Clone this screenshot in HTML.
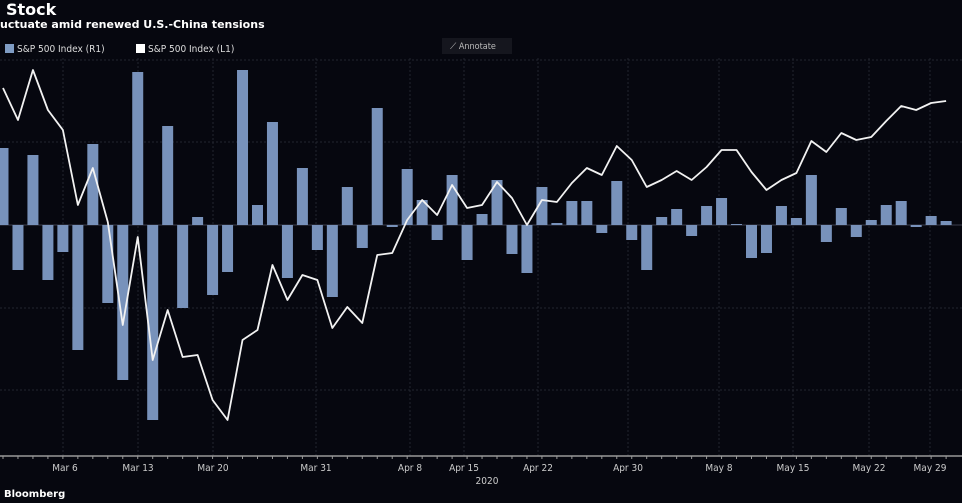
<!DOCTYPE html>
<html><head><meta charset="utf-8"><style>
body{margin:0;background:#06070f;width:962px;height:503px;overflow:hidden;font-family:"DejaVu Sans","Liberation Sans",sans-serif}
</style></head><body>
<svg width="962" height="503" viewBox="0 0 962 503" xmlns="http://www.w3.org/2000/svg" style="position:absolute;left:0;top:0">
<rect width="962" height="503" fill="#06070f"/>
<text x="6" y="15" fill="#fff" font-size="16" font-weight="bold" font-family="DejaVu Sans,sans-serif">Stock</text>
<text x="0" y="28" fill="#fff" font-size="11" font-weight="bold" font-family="DejaVu Sans,sans-serif">uctuate amid renewed U.S.-China tensions</text>
<rect x="5" y="44" width="9" height="9" fill="#7f9cc4"/>
<text x="17" y="52" fill="#ddd" font-size="10" font-family="DejaVu Sans Condensed,DejaVu Sans,sans-serif">S&amp;P 500 Index  (R1)</text>
<rect x="136" y="44" width="9" height="9" fill="#fff"/>
<text x="148" y="52" fill="#ddd" font-size="10" font-family="DejaVu Sans Condensed,DejaVu Sans,sans-serif">S&amp;P 500 Index  (L1)</text>
<rect x="442" y="38" width="70" height="16" fill="#15161e"/>
<text x="450" y="49" fill="#bbb" font-size="9" font-family="DejaVu Sans Condensed,sans-serif">⟋ Annotate</text>
<g stroke="#23252f" stroke-dasharray="2,2" stroke-width="1">
<line x1="0" y1="142" x2="962" y2="142"/><line x1="0" y1="308" x2="962" y2="308"/><line x1="0" y1="390" x2="962" y2="390"/><line x1="0" y1="60" x2="962" y2="60"/>
<line x1="63" y1="58" x2="63" y2="456"/><line x1="138" y1="58" x2="138" y2="456"/><line x1="213" y1="58" x2="213" y2="456"/><line x1="316" y1="58" x2="316" y2="456"/><line x1="410" y1="58" x2="410" y2="456"/><line x1="464" y1="58" x2="464" y2="456"/><line x1="538" y1="58" x2="538" y2="456"/><line x1="628" y1="58" x2="628" y2="456"/><line x1="719" y1="58" x2="719" y2="456"/><line x1="793" y1="58" x2="793" y2="456"/><line x1="869" y1="58" x2="869" y2="456"/><line x1="930" y1="58" x2="930" y2="456"/>
</g>
<line x1="0" y1="225" x2="962" y2="225" stroke="#3a3d4d"/>
<g fill="#7892bb" id="bars"></g>
<polyline id="ln" fill="none" stroke="#f2f2f2" stroke-width="1.8" stroke-linejoin="round" points=""/>
<line x1="0" y1="456" x2="962" y2="456" stroke="#999" stroke-width="1.5"/>
<g id="ticks" stroke="#999"></g>
<g fill="#ccc" font-size="10" font-family="DejaVu Sans Condensed,DejaVu Sans,sans-serif" text-anchor="middle">
<text x="65" y="471">Mar 6</text><text x="138" y="471">Mar 13</text><text x="213" y="471">Mar 20</text><text x="316" y="471">Mar 31</text><text x="410" y="471">Apr 8</text><text x="464" y="471">Apr 15</text><text x="538" y="471">Apr 22</text><text x="628" y="471">Apr 30</text><text x="719" y="471">May 8</text><text x="793" y="471">May 15</text><text x="869" y="471">May 22</text><text x="930" y="471">May 29</text>
<text x="487" y="484">2020</text>
</g>
<text x="4" y="497" fill="#fff" font-size="10" font-weight="bold" font-family="DejaVu Sans,sans-serif">Bloomberg</text>
</svg>
<script>
var b=[148,270,155,280,252,350,144,303,380,72,420,126,308,217,295,272,70,205,122,278,168,250,297,187,248,108,227,169,200,240,175,260,214,180,254,273,187,223,201,201,233,181,240,270,217,209,236,206,198,224,258,253,206,218,175,242,208,237,220,205,201,227,216,221];
var l=[88,120,70,110,130,205,168,222,325,237,360,310,357,355,400,420,340,330,265,300,275,280,328,307,323,255,253,220,200,215,185,208,205,182,198,225,200,202,183,168,175,146,160,187,180,171,180,167,150,150,172,190,180,173,141,152,133,140,137,121,106,110,103,101];
var g=document.getElementById('bars'),s='',p=[],t='';
for(var i=0;i<b.length;i++){var x=3+i*14.97,y=Math.min(b[i],225),h=Math.max(Math.abs(b[i]-225),1);
s+='<rect x="'+(x-5.5)+'" y="'+y+'" width="11" height="'+h+'"/>';p.push(x+','+l[i]);
t+='<line x1="'+x+'" y1="456" x2="'+x+'" y2="459"/>';}
g.innerHTML=s;document.getElementById('ln').setAttribute('points',p.join(' '));
document.getElementById('ticks').innerHTML=t;
</script>
</body></html>
